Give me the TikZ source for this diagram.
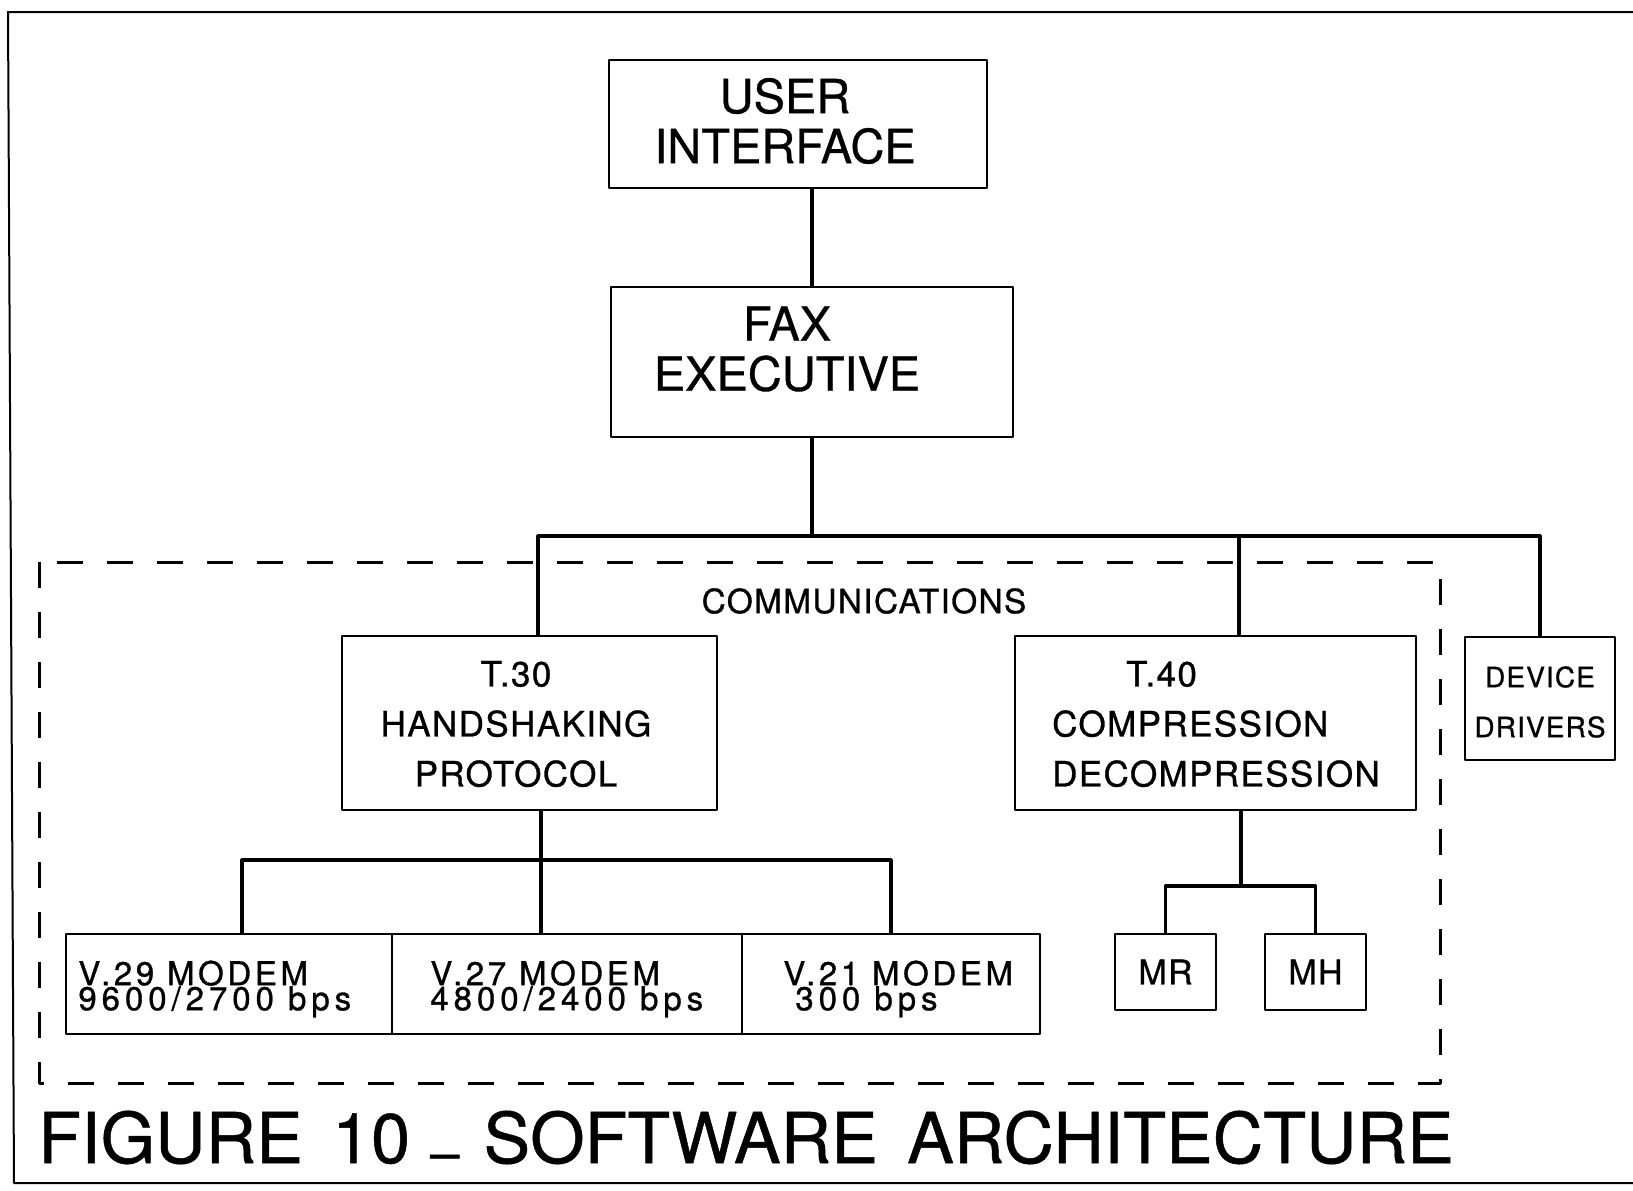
\documentclass[tikz,border=0pt]{standalone}
\usepackage{fontspec}
\setmainfont{TeX Gyre Heros}[FakeBold=0.7]
\newfontfamily\lblfont{TeX Gyre Heros}[LetterSpace=4, FakeBold=0.9]
\newfontfamily\modemfont{TeX Gyre Heros}[LetterSpace=11, FakeBold=0.9]
\newfontfamily\ratefont{TeX Gyre Heros}[LetterSpace=15, FakeBold=0.9]

\begin{document}
\begin{tikzpicture}[
        x = 0.5pt, y = -0.5pt,
        line join=round,
        box/.style = {draw, line width=1pt, inner sep=0pt},
        link/.style = {line width=1.6pt},
        group/.style = {line width=1.5pt, dash pattern=on 13pt off 12pt},
        bigtext/.style = {align=center, inner sep=0pt, font=\fontsize{23.5pt}{25pt}\selectfont},
        midtext/.style = {align=center, inner sep=0pt, font=\lblfont\fontsize{17.5pt}{25pt}\selectfont},
        modemtext/.style = {align=left, inner sep=0pt, font=\modemfont\fontsize{16.5pt}{12.5pt}\selectfont}
    ]

    \useasboundingbox (0,0) rectangle (1633,1190);

    % outer frame
    \draw[line width=1pt] (1633,12) -- (8,12) -- (14,1183) -- (1633,1183);

    % communications group
    \draw[group] (39,562) rectangle (1440,1083);
    \node[inner sep=0pt, font=\lblfont\fontsize{16.7pt}{20pt}\selectfont] (comm) at (864,601) {COMMUNICATIONS};

    \node[box, minimum width=189pt, minimum height=64pt] (ui) at (798,124) {};
    \node[bigtext] (uitext) at (785,121) {USER\\INTERFACE};

    \node[box, minimum width=201pt, minimum height=75pt] (fax) at (812,362) {};
    \node[bigtext] (faxtext) at (787,349) {FAX\\EXECUTIVE};

    \node[box, minimum width=187.5pt, minimum height=87pt] (t30) at (529.5,723) {};
    \node[midtext] (t30text) at (516,724) {T.30\\HANDSHAKING\\PROTOCOL};

    \node[box, minimum width=200.5pt, minimum height=87pt] (t40) at (1215.5,723) {};
    \node[midtext, align=left] (t40text) at (1216,724) {\hspace*{37pt}T.40\\COMPRESSION\\DECOMPRESSION};

    \node[box, minimum width=75pt, minimum height=61.5pt] (dd) at (1540,698.5) {};
    \node[midtext, font=\lblfont\fontsize{14pt}{25pt}\selectfont] (ddtext) at (1540,702) {DEVICE\\DRIVERS};

    \node[box, minimum width=163pt, minimum height=50pt] (v29) at (229,984) {};
    \node[box, minimum width=175pt, minimum height=50pt] (v27) at (567,984) {};
    \node[box, minimum width=149pt, minimum height=50pt] (v21) at (891,984) {};
    \node[modemtext, anchor=west] (v29text) at (78,989) {V.29 MODEM\\\ratefont 9600/2700 bps};
    \node[modemtext, anchor=west] (v27text) at (430,989) {V.27 MODEM\\\ratefont 4800/2400 bps};
    \node[modemtext, anchor=west] (v21text) at (783,989) {V.21 MODEM\\\hspace*{6pt}\ratefont 300 bps};

    \node[box, minimum width=50.5pt, minimum height=38pt, font=\lblfont\fontsize{17pt}{18pt}\selectfont] (mr) at (1165.5,972) {MR};
    \node[box, minimum width=50.5pt, minimum height=38pt, font=\lblfont\fontsize{17pt}{18pt}\selectfont] (mh) at (1315.5,972) {MH};

    % connectors
    \coordinate (busl) at (538,536);
    \coordinate (busr) at (1540,536);
    \coordinate (bust40) at (1239,536);
    \coordinate (modembus) at (541,860);
    \coordinate (mbl) at (242,860);
    \coordinate (mbr) at (891,860);
    \coordinate (cbus) at (1241,886);

    \draw[link] (ui.south -| fax.north) -- (fax.north);
    \draw[link] (fax.south) -- (fax.south |- busl);
    \draw[link] (busl |- t30.north) -- (busl) -- (busr) -- (dd.north);
    \draw[link] (bust40) -- (bust40 |- t40.north);

    \draw[link] (t30.south -| modembus) -- (modembus);
    \draw[link] (mbl |- v29.north) -- (mbl) -- (mbr) -- (v21.north);
    \draw[link] (modembus) -- (modembus |- v27.north);

    \draw[link] (t40.south -| cbus) -- (cbus);
    \draw[link] (mr.north) -- (mr.north |- cbus) -- (mh.north |- cbus) -- (mh.north);

    \node[anchor=base west, inner sep=0pt, font=\fontsize{35pt}{35pt}\selectfont] (title) at (38,1163) {\spaceskip=0.42em\relax FIGURE 10\hspace{0.3em}\raisebox{8.5pt}{\scalebox{0.7}[1]{\_}}\hspace{0.36em}SOFTWARE ARCHITECTURE};

\end{tikzpicture}
\end{document}
